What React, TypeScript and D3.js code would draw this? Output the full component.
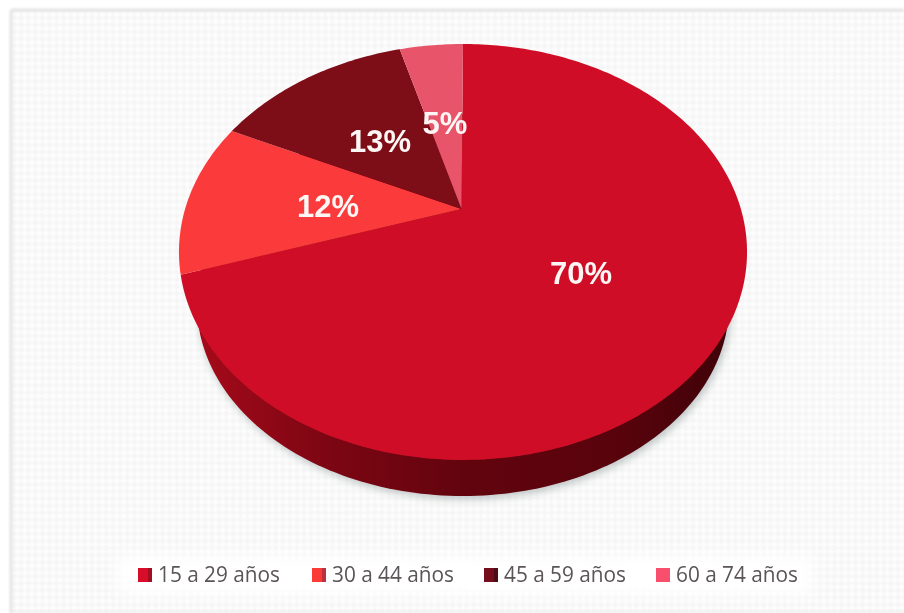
import React from "react";
import * as d3 from "d3";

const categories = ["15 a 29 años", "30 a 44 años", "45 a 59 años", "60 a 74 años"];
const shares = [70, 12, 13.6, 4.4];
const shareLabels = ["70%", "12%", "13%", "5%"];
const sliceColors = ["#cf1126", "#fb3a3a", "#7d0818", "#e8556b"];
const legendColors = ["#d80f2a", "#fb3a34", "#760a1c", "#f7506c"];
const legendShade = ["#a50c24", "#b8323f", "#4e0a16", "#f7506c"];
const labelPositions = [[581, 273], [328, 206], [380, 141], [445, 123]];
const legendX = [138, 312, 484, 656];

const W = 904, H = 613;
const cx = 463, k = -0.2067, p = 155.9, apexY = 209, c = 277.9;
const project = (a: number): [number, number] => {
  const u = Math.sin(a), v = -Math.cos(a), w = 1 + k * v;
  return [cx + (c * u) / w, (apexY + p * v) / w];
};

const pie = d3.pie<number>().sort(null).value((d) => d);
const arcs = pie(shares);
const line = d3.line<[number, number]>().x((d) => d[0]).y((d) => d[1]);

const slicePath = (start: number, end: number) => {
  const n = Math.max(4, Math.ceil((end - start) * 60));
  const pts = d3.range(n + 1).map((i) => project(start + ((end - start) * i) / n));
  return line([[cx - 1.5, apexY], ...pts]) + "Z";
};

const ellipsePath = (ex: number, ey: number, rx: number, ry: number) => {
  const pts = d3.range(241).map((i): [number, number] => {
    const t = (i / 240) * 2 * Math.PI;
    return [ex + rx * Math.cos(t), ey + ry * Math.sin(t)];
  });
  return line(pts) + "Z";
};

export default function App() {
  return (
    <svg width={W} height={H} viewBox={`0 0 ${W} ${H}`} style={{ position: "absolute", left: 0, top: 0, display: "block" }}>
      <defs>
        <pattern id="hatch" width="10" height="10" patternUnits="userSpaceOnUse" patternTransform="rotate(45)">
          <rect width="10" height="10" fill="#fcfcfc" />
          <rect width="5" height="5" fill="#f6f6f6" />
          <rect x="5" y="5" width="5" height="5" fill="#f6f6f6" />
        </pattern>
        <linearGradient id="side" x1="0" x2="1" y1="0" y2="0">
          <stop offset="0" stopColor="#a50a1a" />
          <stop offset="0.25" stopColor="#7c0613" />
          <stop offset="0.5" stopColor="#62040e" />
          <stop offset="0.8" stopColor="#58030c" />
          <stop offset="1" stopColor="#3f0208" />
        </linearGradient>
        <filter id="blur6" x="-10%" y="-10%" width="120%" height="120%"><feGaussianBlur stdDeviation="4" /></filter>
        <filter id="blur8" x="-10%" y="-60%" width="120%" height="220%"><feGaussianBlur stdDeviation="7" /></filter>
        <filter id="soft" x="-10%" y="-10%" width="120%" height="120%"><feGaussianBlur stdDeviation="0.6" /></filter>
        <filter id="edge" x="-5%" y="-5%" width="110%" height="110%"><feGaussianBlur stdDeviation="1" /></filter>
      </defs>
      <rect width={W} height={H} fill="#ffffff" />
      <rect x={11} y={10} width={W - 11} height={H - 12} fill="url(#hatch)" />
      <g stroke="#e4e4e4" strokeWidth={3} filter="url(#edge)">
        <line x1={11} y1={10} x2={W} y2={10} />
        <line x1={11} y1={10} x2={11} y2={H} />
        <line x1={11} y1={H - 1} x2={W} y2={H - 1} strokeWidth={1.5} />
      </g>
      <path d={ellipsePath(465, 308, 266, 191)} fill="#8a9494" opacity={0.55} filter="url(#blur6)" />
      <path d={ellipsePath(463, 305, 266, 191)} fill="url(#side)" />
      <g filter="url(#soft)">
        {arcs.map((a, i) => (
          <path key={categories[i]} d={slicePath(a.startAngle, a.endAngle)} fill={sliceColors[i]} />
        ))}
      </g>
      <g fontFamily="'Liberation Sans', Arial, sans-serif" fontWeight={700} fontSize={31} fill="#fdf6f4" textAnchor="middle" filter="url(#soft)">
        {shareLabels.map((t, i) => (
          <text key={t} x={labelPositions[i][0]} y={labelPositions[i][1]} dy="0.36em">{t}</text>
        ))}
      </g>
      <rect x={118} y={556} width={694} height={38} fill="#ffffff" filter="url(#blur8)" />
      <g filter="url(#soft)">
        {categories.map((t, i) => (
          <g key={t}>
            <rect x={legendX[i]} y={568} width={14} height={14} fill={legendColors[i]} />
            <rect x={legendX[i] + 10} y={568} width={4} height={14} fill={legendShade[i]} />
            <text x={legendX[i] + 20} y={582} fontFamily="'Open Sans', sans-serif" fontSize={22} fill="#5a5458" textLength={122} lengthAdjust="spacingAndGlyphs">{t}</text>
          </g>
        ))}
      </g>
    </svg>
  );
}
